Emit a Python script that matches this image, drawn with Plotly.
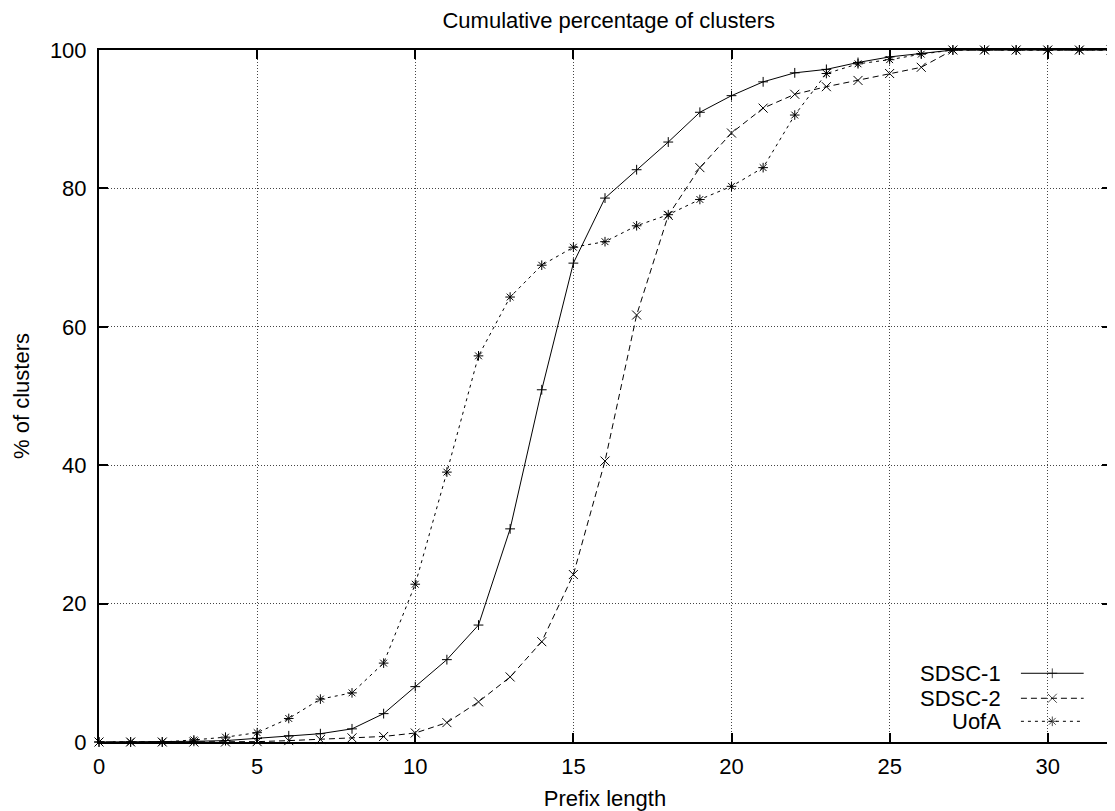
import plotly.graph_objects as go

# ---- data ----
prefix_len = list(range(0, 33))
sdsc1 = [0, 0, 0, 0.1, 0.2, 0.5, 0.9, 1.2, 1.9, 4.1,
         8.0, 11.9, 16.9, 30.8, 50.9, 69.2, 78.6, 82.7, 86.7, 91.0,
         93.4, 95.4, 96.7, 97.2, 98.2, 99.0, 99.5, 100, 100, 100,
         100, 100, 100]
sdsc2 = [0, 0, 0, 0, 0, 0.05, 0.2, 0.35, 0.6, 0.8,
         1.3, 2.8, 5.8, 9.4, 14.5, 24.2, 40.6, 61.7, 76.1, 83.0,
         88.0, 91.6, 93.6, 94.7, 95.6, 96.6, 97.5, 100, 100, 100,
         100, 100, 100]
uofa = [0, 0, 0, 0.3, 0.7, 1.35, 3.4, 6.2, 7.1, 11.4,
        22.8, 39.0, 55.8, 64.3, 68.9, 71.5, 72.3, 74.6, 76.2, 78.4,
        80.3, 83.0, 90.6, 96.6, 98.0, 98.6, 99.4, 100, 100, 100,
        100, 100, 100]
series_names = ["SDSC-1", "SDSC-2", "UofA"]
x_ticks = [0, 5, 10, 15, 20, 25, 30]
y_ticks = [0, 20, 40, 60, 80, 100]

# ---- styles ----
FONT = "Liberation Sans, Arial, Helvetica, sans-serif"
FS = 22
styles = [
    dict(dash="solid", symbol="cross-thin", size=7),
    dict(dash="6px,4px", symbol="x-thin", size=9),
    dict(dash="3px,4px", symbol="asterisk", size=8),
]
series = [sdsc1, sdsc2, uofa]

fig = go.Figure()
for name, ys, st in zip(series_names, series, styles):
    fig.add_trace(go.Scatter(
        x=prefix_len, y=ys, name=name, mode="lines+markers",
        line=dict(color="black", width=1, dash=st["dash"]),
        marker=dict(symbol=st["symbol"], size=st["size"], color="black",
                    line=dict(color="black", width=1)),
        cliponaxis=False, showlegend=False,
    ))

# custom gnuplot-style key (text left, sample right) on overlay axes [0,1]
key_rows = [0.0993, 0.0632, 0.0299]
key_x0, key_x1, key_text_x = 0.911, 0.973, 0.893
for name, st, yk in zip(series_names, styles, key_rows):
    fig.add_trace(go.Scatter(
        x=[key_x0, (key_x0 + key_x1) / 2, key_x1], y=[yk, yk, yk],
        xaxis="x2", yaxis="y2", mode="lines+markers",
        line=dict(color="black", width=1, dash=st["dash"]),
        marker=dict(symbol=st["symbol"], size=[0, st["size"], 0], color="black",
                    line=dict(color="black", width=1)),
        cliponaxis=False, showlegend=False, hoverinfo="skip",
    ))
    fig.add_annotation(x=key_text_x, y=yk, xref="paper", yref="paper",
                       text=name, showarrow=False, xanchor="right", yanchor="middle",
                       font=dict(family=FONT, size=FS, color="black"))

axis_common = dict(
    showline=True, linecolor="black", linewidth=2, mirror="ticks",
    ticks="inside", ticklen=9, tickwidth=1.5, tickcolor="black",
    showgrid=True, gridcolor="#444", gridwidth=1, griddash="1px,2px",
    zeroline=False, automargin=False,
    tickfont=dict(family=FONT, size=FS, color="black"),
)

# page body has an 8px margin: size the figure so the plot lands where the reference has it
fig.update_layout(
    width=1107, height=803,
    margin=dict(l=91, r=4, t=42, b=69),
    paper_bgcolor="white", plot_bgcolor="white",
    font=dict(family=FONT, size=FS, color="black"),
    title=dict(text="Cumulative percentage of clusters", x=0.5427, xanchor="center",
               y=0.994, yanchor="top", font=dict(family=FONT, size=FS, color="black")),
    xaxis=dict(range=[0, 32], tickvals=x_ticks, ticklabelstandoff=4,
               title=dict(text="Prefix length", standoff=13,
                          font=dict(family=FONT, size=FS)),
               **axis_common),
    yaxis=dict(range=[0, 100], tickvals=y_ticks, ticklabelstandoff=6,
               title=dict(text="% of clusters", standoff=14,
                          font=dict(family=FONT, size=FS)),
               **axis_common),
    xaxis2=dict(overlaying="x", range=[0, 1], visible=False),
    yaxis2=dict(overlaying="y", range=[0, 1], visible=False),
)

fig.write_html("out.html")
